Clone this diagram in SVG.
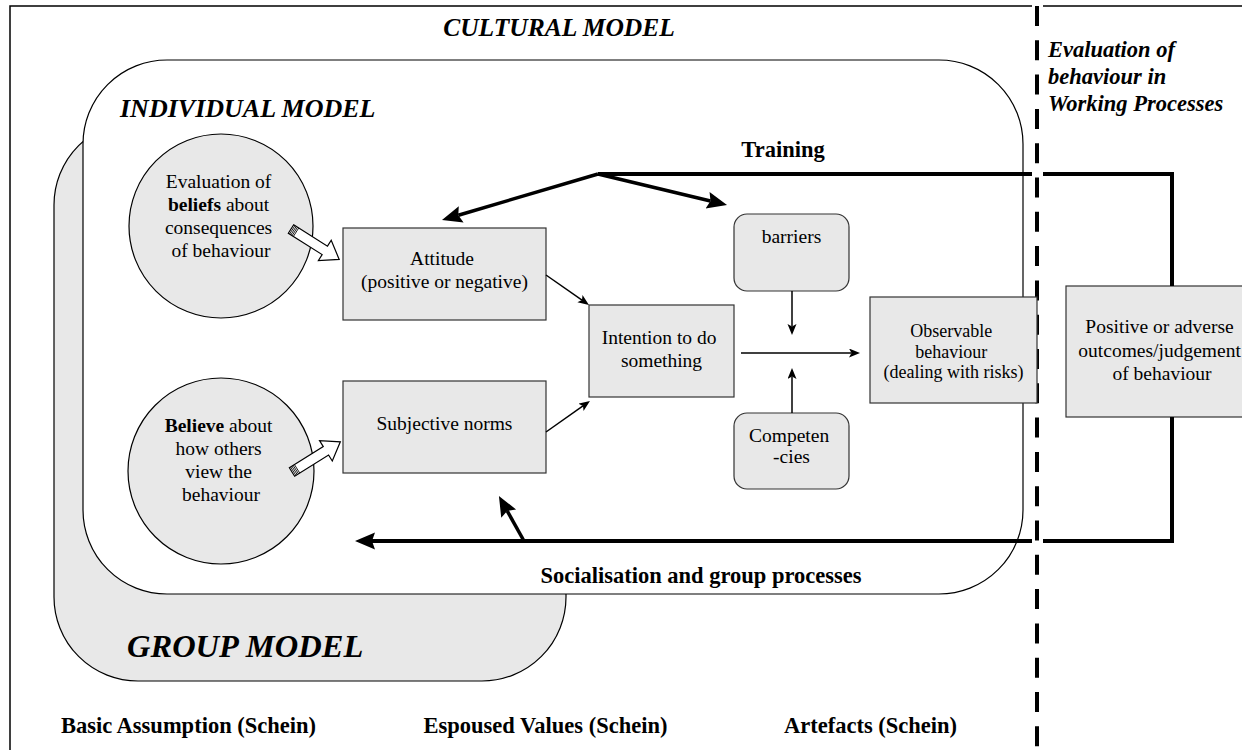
<svg xmlns="http://www.w3.org/2000/svg" width="1242" height="750" viewBox="0 0 1242 750">
  <style>
    text { font-family: "Liberation Serif", "Times New Roman", serif; fill: #000; }
    .c { text-anchor: middle; }
    .reg { font-size: 19.5px; }
    .small { font-size: 18px; }
    .lbl { font-size: 22.5px; font-weight: bold; }
    .title { font-weight: bold; font-style: italic; }
    .box { fill: #e8e8e8; stroke: #333; stroke-width: 1.2; }
    .thin { fill: none; stroke: #000; stroke-width: 1.5; }
    .thick { fill: none; stroke: #000; stroke-width: 3.5; }
    .heavy { fill: none; stroke: #000; stroke-width: 4; }
    .hollow { fill: #fff; stroke: #000; stroke-width: 1.2; stroke-linejoin: miter; }
  </style>
  <defs>
    <marker id="headThin" markerUnits="userSpaceOnUse" markerWidth="12" markerHeight="10" refX="2.5" refY="4.5" orient="auto">
      <path d="M0,0 L11,4.5 L0,9 L2.5,4.5 z" fill="#000"/>
    </marker>
    <marker id="headThick" markerUnits="userSpaceOnUse" markerWidth="21" markerHeight="18" refX="3" refY="8.5" orient="auto">
      <path d="M0,0 L20,8.5 L0,17 L3,8.5 z" fill="#000"/>
    </marker>
    <!-- open block arrow with a hatched tail, pointing along +x -->
    <g id="blockArrow">
      <polygon class="hollow" points="0,-5 40,-5 40,-12 57,0 40,12 40,5 0,5"/>
      <path d="M1.5,-5 V5 M3,-5 V5 M4.5,-5 V5 M6,-5 V5" stroke="#000" stroke-width="0.8"/>
    </g>
  </defs>

  <!-- cultural frame -->
  <g id="cultural-frame">
    <path d="M10,750 V6 H1032 M1043,6 H1242" fill="none" stroke="#000" stroke-width="1.5"/>
    <text class="title" x="559" y="36" text-anchor="middle" font-size="25.5">CULTURAL MODEL</text>
  </g>

  <!-- group model -->
  <g id="group-model">
    <path d="M138,121 H482 A84,84 0 0 1 566,205 V597 A84,84 0 0 1 482,681 H138 A84,84 0 0 1 54,597 V205 A84,84 0 0 1 138,121 Z" fill="#e8e8e8" stroke="#000" stroke-width="1.2"/>
    <text class="title" x="127" y="657" font-size="32.5">GROUP MODEL</text>
  </g>

  <!-- individual model -->
  <g id="individual-model">
    <rect x="83" y="60" width="940" height="534" rx="84" ry="84" fill="#fff" stroke="#000" stroke-width="1.2"/>
    <text class="title" x="120" y="117" font-size="26">INDIVIDUAL MODEL</text>
  </g>

  <!-- working processes divider -->
  <g id="divider">
    <line x1="1037" y1="6" x2="1037" y2="750" stroke="#000" stroke-width="4" stroke-dasharray="20 14.3"/>
    <text class="title" font-size="22.5">
      <tspan x="1048" y="57">Evaluation of</tspan>
      <tspan x="1048" y="84">behaviour in</tspan>
      <tspan x="1048" y="111">Working Processes</tspan>
    </text>
  </g>

  <!-- nodes -->
  <g id="beliefs">
    <circle cx="221" cy="226" r="92" fill="#e8e8e8" stroke="#000" stroke-width="1.2"/>
    <text class="reg c">
      <tspan x="221" y="188">Evaluation of</tspan>
      <tspan x="221" y="211"><tspan font-weight="bold">beliefs</tspan> about</tspan>
      <tspan x="221" y="234">consequences</tspan>
      <tspan x="221" y="257">of behaviour</tspan>
    </text>
  </g>

  <g id="believe">
    <circle cx="221" cy="471" r="93" fill="#e8e8e8" stroke="#000" stroke-width="1.2"/>
    <text class="reg c">
      <tspan x="221" y="432"><tspan font-weight="bold">Believe</tspan> about</tspan>
      <tspan x="221" y="455">how others</tspan>
      <tspan x="221" y="478">view the</tspan>
      <tspan x="221" y="501">behaviour</tspan>
    </text>
  </g>

  <g id="attitude">
    <rect class="box" x="343" y="228" width="203" height="92"/>
    <text class="reg c">
      <tspan x="444.5" y="265">Attitude</tspan>
      <tspan x="444.5" y="288">(positive or negative)</tspan>
    </text>
  </g>

  <g id="subjective-norms">
    <rect class="box" x="343" y="381" width="203" height="92"/>
    <text class="reg c" x="444.5" y="430">Subjective norms</text>
  </g>

  <g id="intention">
    <rect class="box" x="589" y="305" width="145" height="92"/>
    <text class="reg c">
      <tspan x="661.5" y="344">Intention to do</tspan>
      <tspan x="661.5" y="367">something</tspan>
    </text>
  </g>

  <g id="barriers">
    <rect class="box" x="734" y="214" width="115" height="77" rx="13" ry="13"/>
    <text class="reg c" x="791.5" y="243">barriers</text>
  </g>

  <g id="competencies">
    <rect class="box" x="734" y="413" width="115" height="76" rx="13" ry="13"/>
    <text class="reg c">
      <tspan x="791.5" y="442">Competen</tspan>
      <tspan x="791.5" y="463">-cies</tspan>
    </text>
  </g>

  <g id="observable">
    <rect class="box" x="870" y="297" width="167" height="106"/>
    <text class="small c">
      <tspan x="953.5" y="337">Observable</tspan>
      <tspan x="953.5" y="357.5">behaviour</tspan>
      <tspan x="953.5" y="378">(dealing with risks)</tspan>
    </text>
  </g>

  <g id="outcomes">
    <rect class="box" x="1066" y="286" width="192" height="131"/>
    <text class="reg c">
      <tspan x="1162" y="333">Positive or adverse</tspan>
      <tspan x="1162" y="356.5">outcomes/judgement</tspan>
      <tspan x="1162" y="380">of behaviour</tspan>
    </text>
  </g>

  <!-- connectors -->
  <g id="connectors">
    <use href="#blockArrow" transform="translate(291,229) rotate(32.3)"/>
    <use href="#blockArrow" transform="translate(292,472) rotate(-32)"/>

    <line class="thin" x1="546" y1="275" x2="582" y2="300.1" marker-end="url(#headThin)"/>
    <line class="thin" x1="546" y1="432" x2="583" y2="405.9" marker-end="url(#headThin)"/>
    <line class="thin" x1="741" y1="353" x2="851.5" y2="353" marker-end="url(#headThin)"/>
    <line class="thin" x1="792" y1="291" x2="792" y2="326.5" marker-end="url(#headThin)"/>
    <line class="thin" x1="792" y1="413" x2="792" y2="376.5" marker-end="url(#headThin)"/>

    <!-- training feedback -->
    <path class="heavy" d="M598,174 H1032 M1043,174 H1172 V286"/>
    <line class="thick" x1="598" y1="174" x2="458.3" y2="215.2" marker-end="url(#headThick)"/>
    <line class="thick" x1="598" y1="174" x2="710.5" y2="201" marker-end="url(#headThick)"/>
    <text class="lbl c" x="783" y="157">Training</text>

    <!-- socialisation feedback -->
    <path class="heavy" d="M1172,417 V541 H1043"/>
    <line class="heavy" x1="1032" y1="541" x2="372" y2="541" marker-end="url(#headThick)"/>
    <line class="thick" x1="524" y1="541" x2="507.2" y2="510.9" marker-end="url(#headThick)"/>
    <text class="lbl c" x="701" y="583">Socialisation and group processes</text>
  </g>

  <!-- schein levels -->
  <g id="schein-levels">
    <text class="lbl c" x="188.5" y="733">Basic Assumption (Schein)</text>
    <text class="lbl c" x="545.5" y="733">Espoused Values (Schein)</text>
    <text class="lbl c" x="870.5" y="733">Artefacts (Schein)</text>
  </g>
</svg>
